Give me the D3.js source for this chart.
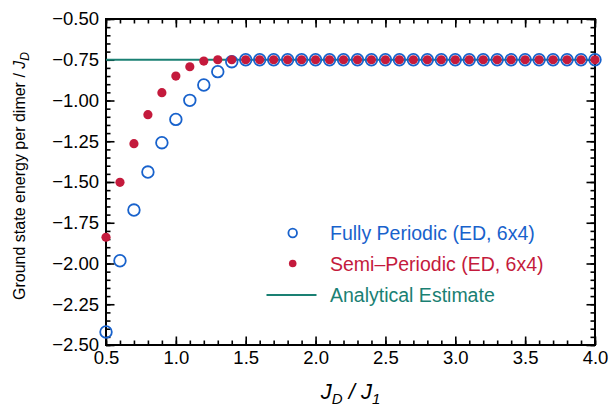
<!DOCTYPE html>
<html><head><meta charset="utf-8">
<script src="https://cdn.jsdelivr.net/npm/d3@7"></script>
<style>body{margin:0;background:#fff}svg{display:block}text{font-family:"Liberation Sans",Arial,sans-serif}</style>
</head><body><svg id="c" width="610" height="407"></svg>
<script>
const xValues = [0.5,0.6,0.7,0.8,0.9,1.0,1.1,1.2,1.3,1.4,1.5,1.6,1.7,1.8,1.9,2.0,2.1,2.2,2.3,2.4,2.5,2.6,2.7,2.8,2.9,3.0,3.1,3.2,3.3,3.4,3.5,3.6,3.7,3.8,3.9,4.0];
const fullyPeriodic = [-2.42,-1.983,-1.672,-1.439,-1.259,-1.116,-0.999,-0.905,-0.823,-0.762,-0.75,-0.75,-0.75,-0.75,-0.75,-0.75,-0.75,-0.75,-0.75,-0.75,-0.75,-0.75,-0.75,-0.75,-0.75,-0.75,-0.75,-0.75,-0.75,-0.75,-0.75,-0.75,-0.75,-0.75,-0.75,-0.75];
const semiPeriodic = [-1.839,-1.502,-1.265,-1.087,-0.952,-0.850,-0.793,-0.758,-0.75,-0.75,-0.75,-0.75,-0.75,-0.75,-0.75,-0.75,-0.75,-0.75,-0.75,-0.75,-0.75,-0.75,-0.75,-0.75,-0.75,-0.75,-0.75,-0.75,-0.75,-0.75,-0.75,-0.75,-0.75,-0.75,-0.75,-0.75];
const analytical = [[0.5,-0.75],[4.0,-0.75]];
const xTicks = [0.5,1.0,1.5,2.0,2.5,3.0,3.5,4.0];
const yTicks = [-0.5,-0.75,-1.0,-1.25,-1.5,-1.75,-2.0,-2.25,-2.5];
const legendLabels = ["Fully Periodic (ED, 6x4)","Semi\u2013Periodic (ED, 6x4)","Analytical Estimate"];

const blue="#1862cc", red="#c41a3c", teal="#1a8073";
const m={l:106,t:19,r:15,b:62}, W=610, H=407;
const svg=d3.select("#c");
const x=d3.scaleLinear().domain([0.5,4.0]).range([m.l,W-m.r]);
const y=d3.scaleLinear().domain([-2.5,-0.5]).range([H-m.b,m.t]);
const xMinor=d3.range(5,41).map(d=>d/10);
const yMinor=d3.range(-50,-9,1).map(d=>d/20);

function axisG(axis,tx,ty){
  const g=svg.append("g").attr("transform",`translate(${tx},${ty})`).call(axis);
  g.selectAll("path.domain").remove();
  g.selectAll("line").attr("stroke","#000").attr("stroke-width",1.6);
  g.selectAll("text").attr("fill","#000").style("font-size","18.5px").attr("font-family","Liberation Sans, Arial, sans-serif");
  return g;
}
// minor ticks
axisG(d3.axisBottom(x).tickValues(xMinor).tickSize(-4.5).tickFormat(""),0,H-m.b);
axisG(d3.axisTop(x).tickValues(xMinor).tickSize(-4.5).tickFormat(""),0,m.t);
axisG(d3.axisLeft(y).tickValues(yMinor).tickSize(-4.5).tickFormat(""),m.l,0);
axisG(d3.axisRight(y).tickValues(yMinor).tickSize(-4.5).tickFormat(""),W-m.r,0);
// major ticks
axisG(d3.axisBottom(x).tickValues(xTicks).tickSize(-8.5).tickPadding(6).tickFormat(d3.format(".1f")),0,H-m.b);
axisG(d3.axisTop(x).tickValues(xTicks).tickSize(-8.5).tickFormat(""),0,m.t);
axisG(d3.axisLeft(y).tickValues(yTicks).tickSize(-8.5).tickPadding(7).tickFormat(d3.format(".2f")),m.l,0);
axisG(d3.axisRight(y).tickValues(yTicks).tickSize(-8.5).tickFormat(""),W-m.r,0);
// frame
svg.append("rect").attr("x",m.l).attr("y",m.t).attr("width",W-m.r-m.l).attr("height",H-m.b-m.t)
  .attr("fill","none").attr("stroke","#000").attr("stroke-width",2);

// analytical line
svg.append("path").datum(analytical).attr("d",d3.line().x(d=>x(d[0])).y(d=>y(d[1])))
  .attr("stroke",teal).attr("stroke-width",2).attr("fill","none");
// fully periodic
svg.append("g").selectAll("circle").data(xValues.map((v,i)=>[v,fullyPeriodic[i]])).join("circle")
  .attr("cx",d=>x(d[0])).attr("cy",d=>y(d[1])).attr("r",5.8)
  .attr("fill","none").attr("stroke",blue).attr("stroke-width",1.8);
// semi periodic
svg.append("g").selectAll("circle").data(xValues.map((v,i)=>[v,semiPeriodic[i]])).join("circle")
  .attr("cx",d=>x(d[0])).attr("cy",d=>y(d[1])).attr("r",4.6).attr("fill",red);

// legend
const lg=svg.append("g");
lg.append("circle").attr("cx",292.7).attr("cy",233).attr("r",4.3).attr("fill","none").attr("stroke",blue).attr("stroke-width",1.8);
lg.append("circle").attr("cx",292.7).attr("cy",263.5).attr("r",3.8).attr("fill",red);
lg.append("line").attr("x1",266.5).attr("x2",316.5).attr("y1",295).attr("y2",295).attr("stroke",teal).attr("stroke-width",2);
[[legendLabels[0],233,blue],[legendLabels[1],263.5,red],[legendLabels[2],295,teal]].forEach(([t,yy,c])=>{
  lg.append("text").attr("x",330).attr("y",yy+7).attr("fill",c).style("font-size","19.5px").text(t);
});

// x label
const xl=svg.append("text").attr("x",(m.l+W-m.r)/2).attr("y",399).attr("text-anchor","middle")
  .style("font-size","22px").style("font-style","italic");
xl.append("tspan").text("J");
xl.append("tspan").attr("dy",5).style("font-size","15px").text("D");
xl.append("tspan").attr("dy",-5).text(" / J");
xl.append("tspan").attr("dy",5).style("font-size","15px").text("1");

// y label
const yl=svg.append("text").attr("transform",`translate(25,176) rotate(-90)`).attr("text-anchor","middle")
  .style("font-size","16px");
yl.append("tspan").text("Ground state energy per dimer / ");
yl.append("tspan").style("font-style","italic").text("J");
yl.append("tspan").attr("dy",4).style("font-style","italic").style("font-size","12px").text("D");
</script></body></html>
